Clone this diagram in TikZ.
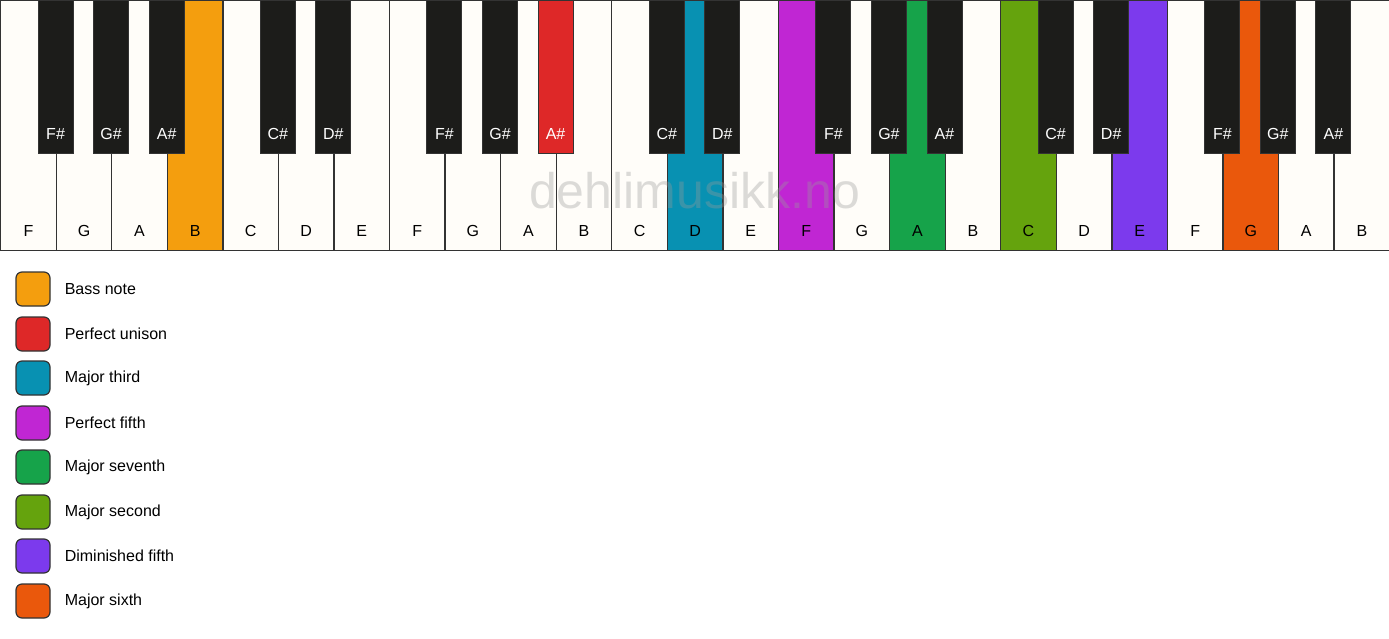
\documentclass[tikz,border=0pt]{standalone}
\usepackage{fontspec}
\setmainfont{Liberation Sans}
\usepackage{xcolor}
\usetikzlibrary{positioning}

\definecolor{ivory}{HTML}{FFFDF9}
\definecolor{keyblack}{HTML}{1C1C1A}
\definecolor{keyline}{HTML}{333333}
\definecolor{bass}{HTML}{F49E0E}
\definecolor{unison}{HTML}{DE2828}
\definecolor{third}{HTML}{0891B2}
\definecolor{fifth}{HTML}{C026D3}
\definecolor{seventh}{HTML}{16A34A}
\definecolor{second}{HTML}{65A30D}
\definecolor{dimfifth}{HTML}{7C3AED}
\definecolor{sixth}{HTML}{EA580C}
\definecolor{wmark}{HTML}{9A9A9A}

\tikzset{
  wkey/.style={draw=keyline, line width=1.3pt, fill=ivory, inner sep=0pt,
    minimum width=55.56pt, minimum height=250pt, anchor=north west,
    label={[anchor=center,yshift=20pt]south:#1}},
  bkey/.style={draw=keyline, line width=1pt, fill=keyblack, inner sep=0pt,
    minimum width=35pt, minimum height=153pt, anchor=north,
    label={[anchor=center,yshift=20pt,text=white]south:#1}},
  swatch/.style={draw=keyline, line width=1.2pt, rounded corners=6pt,
    minimum size=34pt, inner sep=0pt},
  legtext/.style={inner sep=0pt, anchor=west}
}

\begin{document}
\begin{tikzpicture}[x=1pt, y=-1pt, font=\fontsize{16}{19}\selectfont,
  node distance=14pt]
        \useasboundingbox (0,0) rectangle (1389,639);
        % white keys
        \node[wkey=F] (f1) at (0,0) {};
        \node[wkey=G] (g1) at (55.56,0) {};
        \node[wkey=A] (a1) at (111.12,0) {};
        \node[wkey=B, fill=bass] (b1) at (166.68,0) {};
        \node[wkey=C] (c1) at (222.24,0) {};
        \node[wkey=D] (d1) at (277.8,0) {};
        \node[wkey=E] (e1) at (333.36,0) {};
        \node[wkey=F] (f2) at (388.92,0) {};
        \node[wkey=G] (g2) at (444.48,0) {};
        \node[wkey=A] (a2) at (500.04,0) {};
        \node[wkey=B] (b2) at (555.6,0) {};
        \node[wkey=C] (c2) at (611.16,0) {};
        \node[wkey=D, fill=third] (d2) at (666.72,0) {};
        \node[wkey=E] (e2) at (722.28,0) {};
        \node[wkey=F, fill=fifth] (f3) at (777.84,0) {};
        \node[wkey=G] (g3) at (833.4,0) {};
        \node[wkey=A, fill=seventh] (a3) at (888.96,0) {};
        \node[wkey=B] (b3) at (944.52,0) {};
        \node[wkey=C, fill=second] (c3) at (1000.08,0) {};
        \node[wkey=D] (d3) at (1055.64,0) {};
        \node[wkey=E, fill=dimfifth] (e3) at (1111.2,0) {};
        \node[wkey=F] (f4) at (1166.76,0) {};
        \node[wkey=G, fill=sixth] (g4) at (1222.32,0) {};
        \node[wkey=A] (a4) at (1277.88,0) {};
        \node[wkey=B] (b4) at (1333.44,0) {};
        % black keys
        \node[bkey=F\#] (fs1) at (55.56,0) {};
        \node[bkey=G\#] (gs1) at (111.12,0) {};
        \node[bkey=A\#] (as1) at (166.68,0) {};
        \node[bkey=C\#] (cs1) at (277.8,0) {};
        \node[bkey=D\#] (ds1) at (333.36,0) {};
        \node[bkey=F\#] (fs2) at (444.48,0) {};
        \node[bkey=G\#] (gs2) at (500.04,0) {};
        \node[bkey=A\#, fill=unison] (as2) at (555.6,0) {};
        \node[bkey=C\#] (cs2) at (666.72,0) {};
        \node[bkey=D\#] (ds2) at (722.28,0) {};
        \node[bkey=F\#] (fs3) at (833.4,0) {};
        \node[bkey=G\#] (gs3) at (888.96,0) {};
        \node[bkey=A\#] (as3) at (944.52,0) {};
        \node[bkey=C\#] (cs3) at (1055.64,0) {};
        \node[bkey=D\#] (ds3) at (1111.2,0) {};
        \node[bkey=F\#] (fs4) at (1222.32,0) {};
        \node[bkey=G\#] (gs4) at (1277.88,0) {};
        \node[bkey=A\#] (as4) at (1333.44,0) {};
        % watermark
        \node[text=wmark, text opacity=0.35, font=\fontsize{50}{58}\selectfont,
          anchor=base] (wm) at (694.5,208) {dehlimusikk.no};
        % legend
        \node[swatch, fill=bass] (l1) at (33,289) {};
        \node[swatch, fill=unison] (l2) at (33,334) {};
        \node[swatch, fill=third] (l3) at (33,378) {};
        \node[swatch, fill=fifth] (l4) at (33,423) {};
        \node[swatch, fill=seventh] (l5) at (33,467) {};
        \node[swatch, fill=second] (l6) at (33,512) {};
        \node[swatch, fill=dimfifth] (l7) at (33,556) {};
        \node[swatch, fill=sixth] (l8) at (33,601) {};
        \node[legtext, right=of l1] (t1) {Bass note};
        \node[legtext, right=of l2] (t2) {Perfect unison};
        \node[legtext, right=of l3] (t3) {Major third};
        \node[legtext, right=of l4] (t4) {Perfect fifth};
        \node[legtext, right=of l5] (t5) {Major seventh};
        \node[legtext, right=of l6] (t6) {Major second};
        \node[legtext, right=of l7] (t7) {Diminished fifth};
        \node[legtext, right=of l8] (t8) {Major sixth};
        \end{tikzpicture}
\end{document}
